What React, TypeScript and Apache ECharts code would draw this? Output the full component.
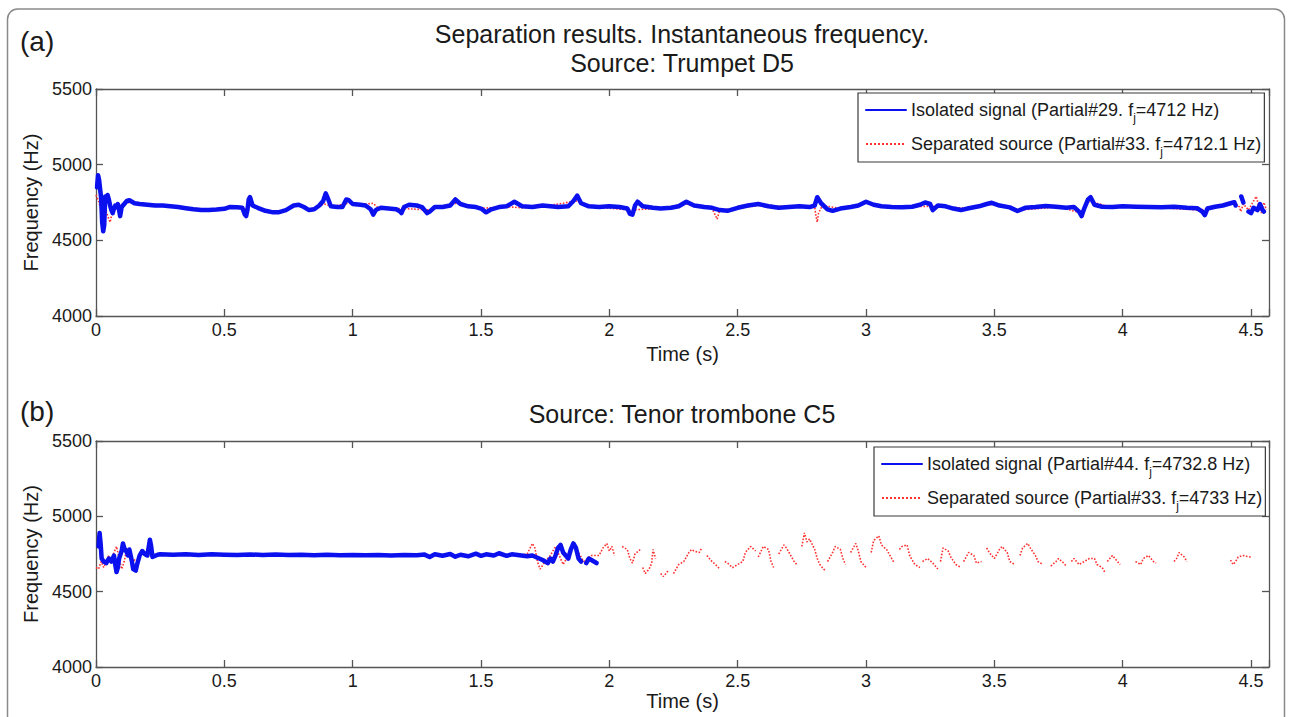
import React, { useEffect, useRef } from 'react';
import * as echarts from 'echarts';

const FONT = '"Liberation Sans", Arial, Helvetica, sans-serif';

const TIME_MIN = 0;
const TIME_MAX = 4.57;
const TIME_STEP = 0.5;
const FREQ_MIN = 4000;
const FREQ_MAX = 5500;
const FREQ_STEP = 500;

const panelLabels = ['(a)', '(b)'];
const titleLines = ['Separation results. Instantaneous frequency.', 'Source: Trumpet D5', 'Source: Tenor trombone C5'];
const xName = 'Time (s)';
const yName = 'Frequency (Hz)';

const legendA = ['Isolated signal (Partial#29. fj=4712 Hz)', 'Separated source (Partial#33. fj=4712.1 Hz)'];
const legendB = ['Isolated signal (Partial#44. fj=4732.8 Hz)', 'Separated source (Partial#33. fj=4733 Hz)'];

// (a) Trumpet D5 – isolated signal (blue)
const trumpetIsolated = [
  [0.004, 4850], [0.008, 4930], [0.012, 4900], [0.016, 4840], [0.02, 4780], [0.024, 4620], [0.028, 4560],
  [0.032, 4600], [0.036, 4790], [0.04, 4760], [0.045, 4800], [0.05, 4770], [0.055, 4730], [0.06, 4700],
  [0.065, 4680], [0.07, 4710], [0.075, 4730], [0.08, 4720], [0.085, 4740], [0.09, 4700], [0.094, 4660],
  [0.1, 4720], [0.11, 4740], [0.12, 4760], [0.13, 4765], [0.15, 4745], [0.17, 4740], [0.2, 4735],
  [0.23, 4730], [0.26, 4730], [0.29, 4725], [0.32, 4720], [0.35, 4712], [0.38, 4705], [0.41, 4700],
  [0.44, 4700], [0.47, 4703], [0.5, 4708], [0.52, 4720], [0.55, 4718], [0.57, 4715], [0.58, 4670],
  [0.585, 4660], [0.59, 4700], [0.595, 4770], [0.6, 4785], [0.61, 4730], [0.63, 4715], [0.66, 4695],
  [0.69, 4685], [0.71, 4685], [0.74, 4700], [0.77, 4730], [0.79, 4735], [0.81, 4720], [0.83, 4700],
  [0.85, 4705], [0.87, 4730], [0.885, 4760], [0.895, 4810], [0.905, 4770], [0.915, 4725], [0.94, 4720],
  [0.96, 4720], [0.975, 4770], [0.985, 4765], [1.0, 4740], [1.03, 4735], [1.05, 4730], [1.07, 4705],
  [1.08, 4670], [1.09, 4700], [1.11, 4715], [1.14, 4710], [1.17, 4705], [1.185, 4690], [1.19, 4680],
  [1.2, 4720], [1.22, 4735], [1.25, 4730], [1.27, 4720], [1.29, 4680], [1.3, 4690], [1.32, 4720],
  [1.35, 4720], [1.38, 4730], [1.4, 4770], [1.42, 4740], [1.45, 4725], [1.48, 4720], [1.5, 4710],
  [1.52, 4685], [1.54, 4705], [1.57, 4720], [1.6, 4725], [1.63, 4755], [1.66, 4725], [1.7, 4720],
  [1.74, 4730], [1.77, 4725], [1.8, 4720], [1.84, 4725], [1.86, 4760], [1.875, 4795], [1.89, 4745],
  [1.92, 4725], [1.96, 4720], [2.0, 4725], [2.04, 4720], [2.07, 4710], [2.08, 4675], [2.09, 4670],
  [2.1, 4730], [2.11, 4755], [2.13, 4725], [2.17, 4715], [2.2, 4710], [2.24, 4715], [2.27, 4725],
  [2.3, 4755], [2.33, 4730], [2.37, 4720], [2.4, 4715], [2.43, 4700], [2.46, 4695], [2.5, 4715],
  [2.54, 4730], [2.58, 4740], [2.62, 4725], [2.66, 4715], [2.7, 4720], [2.74, 4725], [2.78, 4720],
  [2.8, 4730], [2.81, 4785], [2.825, 4745], [2.85, 4705], [2.87, 4695], [2.9, 4710], [2.94, 4720],
  [2.97, 4730], [3.0, 4755], [3.03, 4735], [3.06, 4725], [3.1, 4720], [3.14, 4718], [3.18, 4722],
  [3.21, 4735], [3.23, 4750], [3.25, 4740], [3.26, 4700], [3.28, 4730], [3.31, 4725], [3.34, 4710],
  [3.37, 4700], [3.4, 4712], [3.44, 4725], [3.47, 4740], [3.49, 4748], [3.52, 4730], [3.56, 4718],
  [3.59, 4694], [3.62, 4715], [3.66, 4720], [3.7, 4727], [3.74, 4722], [3.78, 4715], [3.81, 4720],
  [3.83, 4690], [3.84, 4660], [3.85, 4710], [3.865, 4770], [3.875, 4785], [3.89, 4735], [3.92, 4722],
  [3.96, 4720], [4.0, 4725], [4.05, 4722], [4.1, 4720], [4.15, 4718], [4.2, 4722], [4.25, 4715],
  [4.29, 4712], [4.31, 4690], [4.32, 4667], [4.33, 4710], [4.36, 4722], [4.39, 4730], [4.42, 4745],
  [4.435, 4752], [4.44, 4730], [4.45, '-'], [4.462, 4790], [4.47, 4750], [4.48, '-'], [4.49, 4690],
  [4.5, 4680], [4.51, 4715], [4.525, 4700], [4.535, 4740], [4.545, 4700], [4.55, 4690],
];

// (a) Trumpet D5 – separated source (red dotted)
const trumpetSeparated = [
  [0.0, 4800], [0.01, 4760], [0.02, 4700], [0.03, 4710], [0.04, 4690], [0.05, 4640], [0.055, 4620],
  [0.06, 4660], [0.07, 4700], [0.08, 4730], [0.1, 4740], [0.13, 4750], [0.2, 4733], [0.3, 4722],
  [0.38, 4712], [0.45, 4700], [0.52, 4718], [0.57, 4712], [0.58, 4700], [0.6, 4740], [0.65, 4700],
  [0.72, 4688], [0.78, 4730], [0.83, 4702], [0.89, 4740], [0.92, 4722], [0.98, 4745], [1.05, 4740],
  [1.08, 4745], [1.1, 4712], [1.2, 4710], [1.3, 4700], [1.4, 4745], [1.5, 4712], [1.6, 4722],
  [1.66, 4715], [1.75, 4726], [1.87, 4760], [1.95, 4720], [2.08, 4700], [2.2, 4712], [2.3, 4740],
  [2.4, 4712], [2.42, 4640], [2.43, 4700], [2.5, 4712], [2.6, 4735], [2.7, 4720], [2.8, 4720],
  [2.805, 4660], [2.81, 4620], [2.815, 4680], [2.83, 4730], [2.9, 4710], [3.0, 4745], [3.1, 4720],
  [3.25, 4725], [3.4, 4712], [3.5, 4740], [3.6, 4700], [3.75, 4720], [3.84, 4680], [3.87, 4760],
  [3.95, 4720], [4.1, 4720], [4.3, 4700], [4.4, 4730], [4.44, 4745], [4.455, 4720], [4.46, 4690],
  [4.47, 4740], [4.49, 4700], [4.51, 4760], [4.52, 4790], [4.53, 4730], [4.54, 4680], [4.55, 4750],
  [4.56, 4700],
];

// (b) Tenor trombone C5 – isolated signal (blue)
const tromboneIsolated = [
  [0.01, 4800], [0.014, 4890], [0.018, 4820], [0.022, 4720], [0.03, 4700], [0.04, 4690], [0.05, 4720],
  [0.06, 4700], [0.07, 4740], [0.075, 4680], [0.08, 4630], [0.085, 4660], [0.09, 4720], [0.1, 4770],
  [0.105, 4820], [0.11, 4790], [0.12, 4760], [0.125, 4740], [0.13, 4780], [0.14, 4700], [0.145, 4650],
  [0.155, 4640], [0.16, 4680], [0.17, 4740], [0.18, 4770], [0.19, 4750], [0.2, 4740], [0.21, 4845],
  [0.215, 4800], [0.22, 4730], [0.24, 4745], [0.25, 4748], [0.3, 4745], [0.35, 4748], [0.4, 4744],
  [0.45, 4748], [0.5, 4745], [0.55, 4743], [0.6, 4747], [0.65, 4744], [0.7, 4746], [0.75, 4743],
  [0.8, 4745], [0.85, 4742], [0.9, 4745], [0.95, 4742], [1.0, 4744], [1.05, 4741], [1.1, 4743],
  [1.15, 4740], [1.2, 4744], [1.25, 4742], [1.28, 4746], [1.3, 4730], [1.32, 4748], [1.35, 4738],
  [1.38, 4750], [1.4, 4732], [1.42, 4745], [1.45, 4735], [1.48, 4752], [1.5, 4738], [1.52, 4748],
  [1.55, 4740], [1.57, 4755], [1.6, 4738], [1.62, 4748], [1.65, 4742], [1.68, 4735], [1.7, 4740],
  [1.72, 4725], [1.74, 4710], [1.76, 4690], [1.77, 4720], [1.78, 4700], [1.79, 4740], [1.8, 4790],
  [1.81, 4810], [1.82, 4760], [1.83, 4740], [1.84, 4720], [1.85, 4780], [1.86, 4820], [1.87, 4790],
  [1.88, 4720], [1.89, 4700], [1.9, '-'], [1.91, 4690], [1.92, 4720], [1.93, 4710], [1.94, 4700],
  [1.95, 4690],
];

// (b) Tenor trombone C5 – separated source (red dotted)
const tromboneSeparated = [
  [0.0, 4660], [0.01, 4650], [0.02, 4700], [0.03, 4660], [0.04, 4700], [0.05, 4740], [0.06, 4700],
  [0.07, 4760], [0.08, 4800], [0.09, 4720], [0.1, 4650], [0.11, 4700], [0.12, 4790], [0.13, 4760],
  [0.14, 4720], [0.16, 4700], [0.18, 4760], [0.2, 4740], [0.25, 4745], [0.5, 4744], [0.8, 4743],
  [1.1, 4742], [1.4, 4742], [1.6, 4745], [1.65, 4740], [1.68, 4750], [1.7, 4820], [1.71, 4790],
  [1.72, 4700], [1.73, 4650], [1.75, 4700], [1.77, 4740], [1.79, 4800], [1.8, 4760], [1.82, 4680],
  [1.84, 4740], [1.86, 4800], [1.88, 4760], [1.9, 4700], [1.93, 4740],
  [1.96, 4740], [1.975, 4790], [1.99, 4820], [2.0, 4770], [2.01, 4800], [2.02, 4740], [2.03, '-'],
  [2.05, 4800], [2.07, 4780], [2.08, 4720], [2.09, 4690], [2.1, 4750], [2.12, 4780], [2.125, '-'],
  [2.13, 4660], [2.14, 4620], [2.155, 4650], [2.165, 4690], [2.17, 4780], [2.18, 4720], [2.19, '-'],
  [2.2, 4620], [2.21, 4600], [2.23, 4640], [2.24, '-'], [2.25, 4620], [2.27, 4680], [2.29, 4700],
  [2.31, 4760], [2.32, 4780], [2.33, 4770], [2.35, 4760], [2.36, 4790], [2.37, '-'], [2.38, 4740],
  [2.4, 4700], [2.42, 4670], [2.43, 4650], [2.44, '-'], [2.45, 4700], [2.46, 4690], [2.48, 4660],
  [2.5, 4680], [2.52, 4700], [2.53, 4760], [2.55, 4800], [2.57, 4770], [2.575, '-'], [2.58, 4730],
  [2.6, 4800], [2.62, 4780], [2.63, 4700], [2.64, 4660], [2.65, '-'], [2.66, 4750], [2.68, 4810],
  [2.69, 4790], [2.7, 4760], [2.72, 4700], [2.73, 4680], [2.74, '-'], [2.75, 4800], [2.76, 4890],
  [2.77, 4830], [2.78, 4850], [2.8, 4780], [2.81, 4720], [2.82, 4680], [2.84, 4640], [2.845, '-'],
  [2.85, 4700], [2.87, 4760], [2.88, 4800], [2.9, 4780], [2.91, 4720], [2.92, 4680], [2.93, '-'],
  [2.94, 4760], [2.96, 4820], [2.97, 4770], [2.98, 4700], [3.0, 4660], [3.01, '-'], [3.02, 4760],
  [3.03, 4840], [3.05, 4870], [3.06, 4810], [3.08, 4780], [3.1, 4720], [3.11, 4690], [3.12, '-'],
  [3.13, 4780], [3.14, 4800], [3.16, 4810], [3.17, 4740], [3.19, 4680], [3.21, 4660], [3.215, '-'],
  [3.22, 4700], [3.24, 4720], [3.26, 4690], [3.28, 4650], [3.285, '-'], [3.29, 4700], [3.3, 4790],
  [3.32, 4770], [3.33, 4730], [3.35, 4680], [3.37, 4660], [3.375, '-'], [3.38, 4700], [3.4, 4760],
  [3.42, 4740], [3.43, 4690], [3.45, 4700], [3.46, '-'], [3.47, 4790], [3.48, 4760], [3.5, 4720],
  [3.52, 4780], [3.53, 4800], [3.55, 4760], [3.56, 4700], [3.58, 4680], [3.59, '-'], [3.6, 4740],
  [3.61, 4790], [3.63, 4820], [3.64, 4790], [3.66, 4740], [3.67, 4700], [3.69, 4680], [3.705, '-'],
  [3.72, 4670], [3.74, 4700], [3.75, 4720], [3.77, 4690], [3.78, 4670], [3.79, '-'], [3.8, 4700],
  [3.81, 4720], [3.83, 4680], [3.85, 4700], [3.87, 4720], [3.89, 4720], [3.9, 4680], [3.92, 4660],
  [3.93, 4630], [3.935, '-'], [3.94, 4700], [3.96, 4740], [3.97, 4720], [3.98, 4700], [3.99, 4680],
  [4.02, '-'], [4.05, 4700], [4.07, 4680], [4.08, 4720], [4.1, 4740], [4.12, 4700], [4.13, 4690],
  [4.16, '-'], [4.2, 4700], [4.21, 4720], [4.22, 4760], [4.24, 4730], [4.25, 4700], [4.3, '-'],
  [4.42, 4710], [4.43, 4680], [4.44, 4700], [4.45, 4730], [4.47, 4740], [4.48, 4735], [4.5, 4730],
];

const BLUE = '#0a10ee';
const RED = '#ff3030';
const AXIS = '#555555';
const TEXT = '#1a1a1a';

const GRID_A = { left: 96, top: 89, width: 1173, height: 227 };
const GRID_B = { left: 96, top: 441, width: 1173, height: 226 };

function fmtTime(v: number) {
  const r = Math.round(v / TIME_STEP) * TIME_STEP;
  return Math.abs(r - v) < 1e-6 ? String(r) : '';
}

function fmtFreq(v: number) {
  return String(Math.round(v));
}

function xAxisDef(gridIndex: number, position: 'bottom' | 'top', nameGap: number) {
  const bottom = position === 'bottom';
  return {
    type: 'value',
    gridIndex,
    position,
    min: TIME_MIN,
    max: TIME_MAX,
    interval: TIME_STEP,
    name: bottom ? xName : '',
    nameLocation: 'middle',
    nameGap,
    nameTextStyle: { fontFamily: FONT, fontSize: 20, color: TEXT },
    axisLine: { show: true, onZero: false, lineStyle: { color: AXIS, width: 1.3 } },
    axisTick: { show: true, inside: true, length: 7, lineStyle: { color: AXIS, width: 1.3 } },
    axisLabel: { show: bottom, margin: 5, fontFamily: FONT, fontSize: 18, color: TEXT, formatter: fmtTime },
    splitLine: { show: false },
  };
}

function yAxisDef(gridIndex: number, position: 'left' | 'right') {
  const left = position === 'left';
  return {
    type: 'value',
    gridIndex,
    position,
    min: FREQ_MIN,
    max: FREQ_MAX,
    interval: FREQ_STEP,
    name: left ? yName : '',
    nameLocation: 'middle',
    nameGap: 51,
    nameTextStyle: { fontFamily: FONT, fontSize: 20, color: TEXT },
    axisLine: { show: true, onZero: false, lineStyle: { color: AXIS, width: 1.3 } },
    axisTick: { show: true, inside: true, length: 7, lineStyle: { color: AXIS, width: 1.3 } },
    axisLabel: { show: left, margin: 4, fontFamily: FONT, fontSize: 18, color: TEXT, formatter: fmtFreq },
    splitLine: { show: false },
  };
}

function legendDef(names: string[], left: number, top: number) {
  return {
    data: names,
    orient: 'vertical',
    left,
    top,
    padding: [3, 3, 4, 7],
    itemGap: 6,
    itemWidth: 40,
    itemHeight: 12,
    backgroundColor: '#ffffff',
    borderColor: '#3a3a3a',
    borderWidth: 1.2,
    borderRadius: 0,
    itemStyle: { color: 'rgba(0,0,0,0)', borderColor: 'rgba(0,0,0,0)', borderWidth: 0, opacity: 0 },
    formatter: (n: string) => n.replace('fj', 'f{sub|j}'),
    textStyle: {
      fontFamily: FONT,
      fontSize: 18,
      color: TEXT,
      lineHeight: 22,
      rich: {
        sub: { fontFamily: FONT, fontSize: 12, lineHeight: 28, verticalAlign: 'bottom', color: TEXT },
      },
    },
  };
}

function lineSeries(name: string, data: any[], xi: number, yi: number, kind: 'iso' | 'sep') {
  const iso = kind === 'iso';
  return {
    type: 'line',
    name,
    data,
    xAxisIndex: xi,
    yAxisIndex: yi,
    symbol: 'none',
    connectNulls: false,
    z: iso ? 3 : 2,
    itemStyle: { color: iso ? BLUE : RED },
    lineStyle: iso
      ? { color: BLUE, width: 4.5, cap: 'round', join: 'round' }
      : { color: RED, width: 1.6, type: 'dotted' },
  };
}

function textEl(text: string, x: number, y: number, size: number, align = 'center') {
  return {
    type: 'text',
    x,
    y,
    z: 10,
    style: {
      text,
      fontFamily: FONT,
      fontSize: size,
      fill: TEXT,
      align,
      textAlign: align,
      verticalAlign: 'middle',
      textVerticalAlign: 'middle',
    },
  };
}

export default function App() {
  const ref = useRef<HTMLDivElement>(null);
  useEffect(() => {
    if (!ref.current) return;
    const chart = echarts.init(ref.current, null, { renderer: 'svg' });
    const option: any = {
      animation: false,
      backgroundColor: '#ffffff',
      grid: [
        { ...GRID_A, containLabel: false },
        { ...GRID_B, containLabel: false },
      ],
      xAxis: [
        xAxisDef(0, 'bottom', 28),
        xAxisDef(0, 'top', 0),
        xAxisDef(1, 'bottom', 13),
        xAxisDef(1, 'top', 0),
      ],
      yAxis: [yAxisDef(0, 'left'), yAxisDef(0, 'right'), yAxisDef(1, 'left'), yAxisDef(1, 'right')],
      legend: [legendDef(legendA, 858, 93), legendDef(legendB, 874, 447)],
      series: [
        lineSeries(legendA[1], trumpetSeparated, 0, 0, 'sep'),
        lineSeries(legendA[0], trumpetIsolated, 0, 0, 'iso'),
        lineSeries(legendB[1], tromboneSeparated, 2, 2, 'sep'),
        lineSeries(legendB[0], tromboneIsolated, 2, 2, 'iso'),
      ],
      graphic: [
        {
          type: 'rect',
          z: 0,
          shape: { x: 7.5, y: 9, width: 1277, height: 740, r: 10 },
          style: { fill: 'none', stroke: '#8a8a8a', lineWidth: 1.5 },
        },
        textEl(panelLabels[0], 20, 41, 28, 'left'),
        textEl(panelLabels[1], 20, 411, 28, 'left'),
        textEl(titleLines[0], 682, 34, 25),
        textEl(titleLines[1], 682, 63, 25),
        textEl(titleLines[2], 682, 414, 25),
      ],
    };
    chart.setOption(option);
    return () => chart.dispose();
  }, []);
  return (
    <div
      ref={ref}
      style={{ position: 'fixed', left: 0, top: 0, width: 1291, height: 717, background: '#fff' }}
    />
  );
}
